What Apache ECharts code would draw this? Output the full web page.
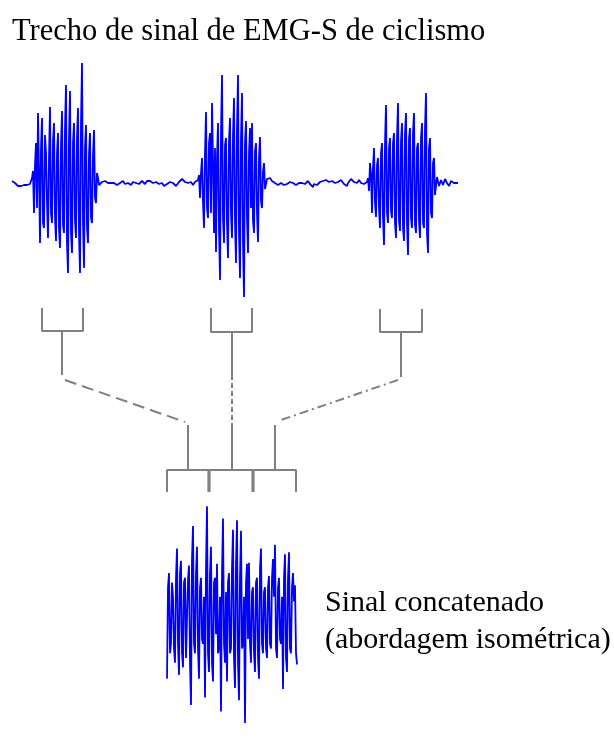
<!DOCTYPE html>
<html>
<head>
<meta charset="utf-8">
<script src="https://cdn.jsdelivr.net/npm/echarts@6/dist/echarts.min.js"></script>
<style>html,body{margin:0;padding:0;background:#fff;}#c{width:614px;height:738px;}</style>
</head>
<body>
<div id="c"></div>
<script>
// ---- DATA (amplitudes, baseline = 0, one sample per pixel column) ----
var rest0 = [2,3,1,0,-1,-2,-3,-2,-2,-3,-3,-2,-2,-1,-1,-2,-2,-1,-1,0];
var burst1 = [5,12,-30,18,40,-25,70,10,-60,35, 65,-40,-45,48,30,-20,-55,25,76,-30,
  -40,42,60,-35,-58,30,50,-45,-65,38, 72,-42,-50,55,98,-60,-90,45,92,-50,
  -70,40,60,-38,-55,45,75,-50,-90,60, 120,-40,-85,35,58,-45,-60,30,50,-35,
  -40,28,53,-15,-20,10,5];
var rest1 = [-2,-3,-1,1,0,1,2,1,1,0, -1,0,0,1,1,0,0,-1,-2,-1, 0,0,1,1,2,1,-1,-1,0,0,
  1,1,-2,-3,1,1,0,0,2,1, -1,-1,1,2,3,1,-1,0,2,3, 4,2,1,0,0,1,2,1,1,0,
  -1,-1,0,0,-2,-3,-4,-2,-1,0, 0,1,1,0,0,-1,-1,-3,-5,-2, 1,2,3,4,5,3,1,0,-1,0,
  0,1,1,-1,-2,-1,1,2,1];
var burst2 = [3,8,-15,10,25,-20,-45,30,71,-25, -35,40,50,-30,80,20,-50,35,-69,25,
  60,-45,-97,50,108,-35,-60,38,45,-40, -75,42,65,-30,-55,48,85,-40,-80,55,
  108,-50,-95,45,90,-60,-114,40,62,-35, -70,30,55,-25,60,-38,-50,32,40,-30,
  -59,25,46,-18,-25,12,20,-6,-8,4, 3];
var rest2 = [4,5,3,2,1,0,0,-1,-1,-2, -2,-1,0,-1,-1,-2,-2,-1,-1,0, 0,1,1,0,0,-1,-1,-2,-3,-1,
  0,1,1,0,0,-1,-1,1,1,2, 2,-1,-1,-3,-4,-1,1,-2,-2,0, 0,1,1,2,2,0,0,3,3,1,
  1,-1,-1,2,2,0,0,-2,-2,1, 1,3,3,1,1,-1,-1,-3,-3,0, 0,2,4,6,3,1,0,1,0,0,
  3,2,0,0,-1,-1,0,0,1];
var burst3 = [5,-8,20,10,-30,15,35,-20,-34,18, 25,-25,-45,30,40,-35,-62,40,78,-30,
  -40,35,45,-28,-35,40,50,-40,-55,45, 80,-38,-48,42,60,-45,-58,50,70,-40,
  -72,45,55,-35,-45,50,70,-42,-50,35, 40,-38,-55,45,60,-40,-45,55,90,-50,
  -70,35,45,-30,-35,20,25,-12,-10,6, 8,-3,-5];
var rest3 = [3,4,-2,-3,4,5,0,-1,-3,-2,2,3,1,0,-1,1,0,0];
var concatSignal = [-67,30,45,-40,-30,35,20,-35,-50,40, 71,-30,-63,45,58,-40,-55,35,40,-45,
  -45,38,53,-50,-95,60,95,-30,-40,45, 73,-35,-67,30,40,-25,-30,20,-87,50,
  116,-40,-60,45,73,-50,-70,35,40,-20, 55,-40,-35,20,-102,45,103,-30,-50,25,
  -70,35,45,-40,-35,50,91,-45,-77,55, 101,-50,-90,40,90,-35,-30,20,-114,35,
  55,-25,56,-30,-50,25,30,-40,-60,35, 40,-45,-67,50,71,-30,-40,25,30,-35,
  -45,30,42,-30,-35,40,60,20,75,-35, -45,30,40,-25,-30,20,-78,40,65,-45,
  -60,40,67,-35,-40,30,45,15,32,-40, -52];
var titleText = 'Trecho de sinal de EMG-S de ciclismo';
var noteText = 'Sinal concatenado\n(abordagem isométrica)';

// ---- LAYOUT (diagram geometry, page pixels) ----
var L = {
  top: {left: 12, top: 53, width: 446, height: 260, amp: 130},
  cat: {left: 167, top: 493, width: 130, height: 260, amp: 130},
  brackets: [
    [[42,308],[42,331],[83,331],[83,308]],
    [[211,308],[211,332],[252,332],[252,308]],
    [[380,309],[380,332],[422,332],[422,309]],
    [[62,331],[62,375]],
    [[232,332],[232,375]],
    [[401,332],[401,377]],
    [[232,425],[232,470]],
    [[188,425],[188,470]],
    [[275,425],[275,470]],
    [[167,492],[167,470],[296,470],[296,492]]
  ],
  thickTicks: [[[209,470],[209,492]], [[253,470],[253,492]]],
  dashLeft: [[65,380],[185,422]],
  dashMid: [[232,375],[232,425]],
  dashRight: [[398,380],[278,421]]
};

var topSignal = rest0.concat(burst1, rest1, burst2, rest2, burst3, rest3);
function indexed(arr){ return arr.map(function(v,i){ return [i, v]; }); }

var gray = '#808080';
var blue = '#0000ff';
var series = [];
L.brackets.forEach(function(p){
  series.push({type:'line', xAxisIndex:0, yAxisIndex:0, data:p, showSymbol:false, silent:true,
    lineStyle:{color:gray, width:2}});
});
L.thickTicks.forEach(function(p){
  series.push({type:'line', xAxisIndex:0, yAxisIndex:0, data:p, showSymbol:false, silent:true,
    lineStyle:{color:gray, width:3.2}});
});
series.push({type:'line', xAxisIndex:0, yAxisIndex:0, data:L.dashLeft, showSymbol:false,
  lineStyle:{color:gray, width:2, type:[12,6]}});
series.push({type:'line', xAxisIndex:0, yAxisIndex:0, data:L.dashMid, showSymbol:false,
  lineStyle:{color:gray, width:2, type:[5,3]}});
series.push({type:'line', xAxisIndex:0, yAxisIndex:0, data:L.dashRight, showSymbol:false,
  lineStyle:{color:gray, width:2, type:[9,4,2,4]}});
series.push({type:'line', xAxisIndex:1, yAxisIndex:1, data:indexed(topSignal), showSymbol:false,
  clip:false, lineStyle:{color:blue, width:1.8}});
series.push({type:'line', xAxisIndex:2, yAxisIndex:2, data:indexed(concatSignal), showSymbol:false,
  clip:false, lineStyle:{color:blue, width:1.8}});

var chart = echarts.init(document.getElementById('c'), null, {renderer:'canvas'});
chart.setOption({
  animation: false,
  backgroundColor: '#fff',
  title: [
    {text: titleText, left: 12, top: 16, padding: 0,
     textStyle: {fontFamily: 'Liberation Serif', fontSize: 30.5, fontWeight: 'normal', color: '#000'}},
    {text: noteText, left: 325, top: 585, padding: 0,
     textStyle: {fontFamily: 'Liberation Serif', fontSize: 30, fontWeight: 'normal', color: '#000', lineHeight: 37}}
  ],
  grid: [
    {left: 0, top: 0, width: 614, height: 738},
    {left: L.top.left, top: L.top.top, width: L.top.width, height: L.top.height},
    {left: L.cat.left, top: L.cat.top, width: L.cat.width, height: L.cat.height}
  ],
  xAxis: [
    {gridIndex:0, type:'value', min:0, max:614, show:false},
    {gridIndex:1, type:'value', min:0, max:topSignal.length-1, show:false},
    {gridIndex:2, type:'value', min:0, max:concatSignal.length-1, show:false}
  ],
  yAxis: [
    {gridIndex:0, type:'value', min:0, max:738, inverse:true, show:false},
    {gridIndex:1, type:'value', min:-L.top.amp, max:L.top.amp, show:false},
    {gridIndex:2, type:'value', min:-L.cat.amp, max:L.cat.amp, show:false}
  ],
  series: series
});
</script>
</body>
</html>
